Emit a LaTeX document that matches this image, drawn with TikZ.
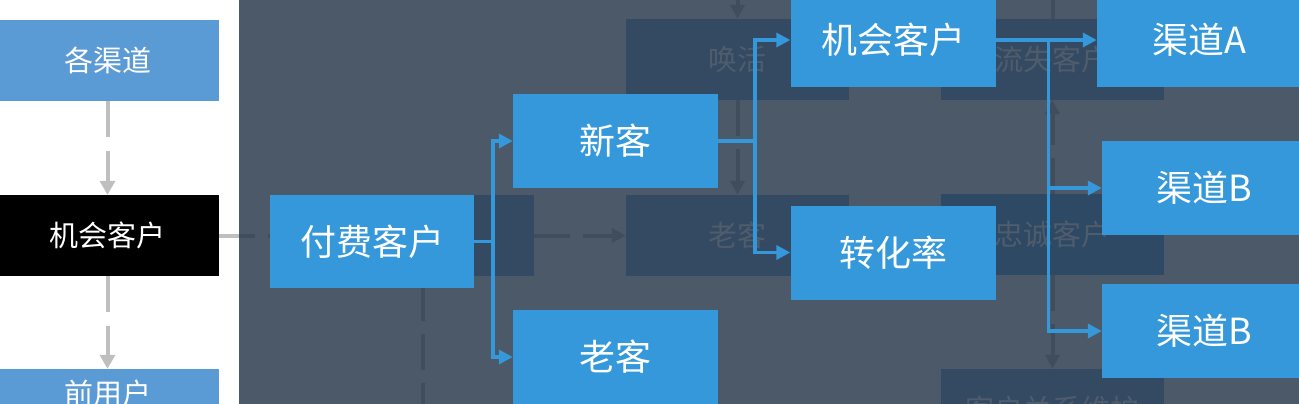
\documentclass[tikz,border=0pt]{standalone}
\usepackage{fontspec}
\setmainfont{Noto Sans CJK SC}
\usepackage{xcolor}
\usetikzlibrary{arrows.meta}
\definecolor{slate}{RGB}{75,89,104}
\definecolor{shade}{RGB}{52,74,98}
\definecolor{loyalshade}{RGB}{46,73,100}
\definecolor{shadetext}{RGB}{79,92,108}
\definecolor{shadeedge}{RGB}{63,77,93}
\definecolor{hotblue}{RGB}{52,152,219}
\definecolor{sideblue}{RGB}{91,155,213}
\definecolor{linegray}{RGB}{191,191,191}

\begin{document}
\begin{tikzpicture}[
 x=1pt,y=-1pt,
 every node/.style={inner sep=0pt,text=white},
 sidebox/.style={fill=sideblue,minimum width=223pt,minimum height=81pt,font=\fontsize{29}{34}\selectfont},
 fadedbox/.style={fill=shade,text=shadetext,minimum width=223pt,minimum height=81pt,font=\fontsize{29}{34}\selectfont},
 hotbox/.style={fill=hotblue,minimum width=205pt,minimum height=94pt,font=\fontsize{36}{42}\selectfont},
 arr/.style={-{Triangle[length=14pt,width=14pt]},line width=3.5pt,draw=hotblue},
 grayarr/.style={-{Triangle[length=14pt,width=15pt]},line width=4pt,draw=linegray,dash pattern=on 36pt off 14pt},
 fadedarr/.style={-{Triangle[length=14pt,width=14pt]},line width=4pt,draw=shadeedge},
 dashy/.style={dash pattern=on 36pt off 13pt}
]
\clip (0,0) rectangle (1299,404);
\fill[white] (0,0) rectangle (1299,404);

% left column
\node[sidebox] (chs) at (107.5,60.5) {各渠道};
\node[sidebox,fill=black] (opl) at (107.5,235.5) {机会客户};
\node[sidebox,minimum height=48pt] (cur) at (107.5,393) {前用户};
\coordinate (edge) at (239,235.5);
\draw[grayarr] (chs) -- (opl);
\draw[grayarr] (opl) -- (cur);
\draw[grayarr,-] (opl.east) -- (edge);

% dimmed layer
\fill[slate] (239,0) rectangle (1299,404);
\node[fadedbox] (dfee) at (422.5,235.5) {};
\node[fadedbox] (wake) at (737.5,59.5) {唤活};
\node[fadedbox] (dold) at (737.5,235.5) {老客};
\node[fadedbox] (lost) at (1052.5,59.5) {流失客户};
\node[fadedbox,fill=loyalshade] (loyal) at (1052.5,234.5) {忠诚客户};
\node[fadedbox] (care) at (1052.5,409.5) {客户关系维护};
\coordinate (wtop) at (737.5,-30);
\coordinate (ltop) at (1052.5,-30);
\coordinate (fbot) at (422.5,430);
\draw[fadedarr,-,dashy,dash phase=20pt] (edge) -- (dfee.west);
\draw[fadedarr] (wtop) -- (wake);
\draw[fadedarr,dashy] (wake) -- (dold);
\draw[fadedarr,dashy] (dfee) -- (dold);
\draw[fadedarr,-,dashy,dash phase=40pt] (dfee.south) -- (fbot);
\draw[fadedarr] (lost) -- (ltop);
\draw[fadedarr,dashy] (loyal) -- (lost);
\draw[fadedarr,dashy] (loyal) -- (care);

% highlighted path
\node[hotbox,minimum width=204pt,minimum height=93pt] (fee) at (372,241.5) {付费客户};
\node[hotbox] (new) at (615.5,141) {新客};
\node[hotbox] (old) at (615.5,357) {老客};
\node[hotbox] (opp) at (893,40) {机会客户};
\node[hotbox] (conv) at (893,252.5) {转化率};
\node[hotbox] (cha) at (1199.5,40) {渠道A};
\node[hotbox] (chb) at (1204.5,188) {渠道B};
\node[hotbox] (chc) at (1204.5,331) {渠道B};
\draw[arr] (fee.east) -- ++(19,0) |- (new.west);
\draw[arr] (fee.east) -- ++(19,0) |- (old.west);
\draw[arr] (new.east) -- ++(37,0) |- (opp.west);
\draw[arr] (new.east) -- ++(37,0) |- (conv.west);
\draw[arr] (opp.east) -- (cha.west);
\draw[arr] (opp.east) -- ++(53,0) |- (chb.west);
\draw[arr] (opp.east) -- ++(53,0) |- (chc.west);
\end{tikzpicture}
\end{document}
